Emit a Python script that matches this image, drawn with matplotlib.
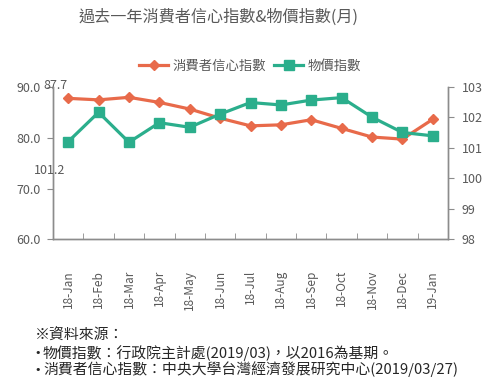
import numpy as np
import matplotlib
matplotlib.use("Agg")
import matplotlib.pyplot as plt

plt.rcParams['font.family'] = ['Noto Sans CJK TC', 'DejaVu Sans']

# ---------------------data-----------------------
months = ["18-Jan", "18-Feb", "18-Mar", "18-Apr", "18-May", "18-Jun", "18-Jul",
          "18-Aug", "18-Sep", "18-Oct", "18-Nov", "18-Dec", "19-Jan"]
confidence = [87.7, 87.4, 87.9, 86.9, 85.6, 83.8, 82.3, 82.5, 83.5, 81.8, 80.1, 79.7, 83.6]
cpi = [101.2, 102.16, 101.18, 101.82, 101.67, 102.1, 102.48, 102.4, 102.56, 102.64, 102.0, 101.5, 101.39]
left_ticks = [60, 70, 80, 90]
right_ticks = [98, 99, 100, 101, 102, 103]

c_conf = "#E86A4A"
c_cpi = "#2BAE8C"
gray = "#8C8C8C"
txt = "#595959"

fig = plt.figure(figsize=(5, 3.85), dpi=100)
ax = fig.add_axes([0.106, 0.378, 0.79, 0.397])
ax2 = ax.twinx()

x = np.arange(len(months))
l1, = ax.plot(x, confidence, color=c_conf, lw=2.3, marker="D", ms=5, label="消費者信心指數", zorder=3)
l2, = ax2.plot(x, cpi, color=c_cpi, lw=2.3, marker="s", ms=7, label="物價指數", zorder=3)

ax.set_xlim(-0.5, len(months) - 0.5)
ax.set_ylim(60, 90)
ax2.set_ylim(98, 103)
ax.set_yticks(left_ticks)
ax.set_yticklabels(["%.1f" % v for v in left_ticks])
ax2.set_yticks(right_ticks)

ax.set_xticks(x)
ax.set_xticklabels(months, rotation=90)
ax.set_xticks(np.arange(len(months) + 1) - 0.5, minor=True)
ax.tick_params(axis="x", which="major", length=0, pad=22, labelsize=8.5, labelcolor=txt)
ax.tick_params(axis="x", which="minor", direction="in", length=4, color=gray)
ax.tick_params(axis="y", direction="out", length=4, color=gray, labelsize=9, labelcolor=txt, pad=5)
ax2.tick_params(axis="y", direction="out", length=4, color=gray, labelsize=9, labelcolor=txt, pad=6)

for a in (ax, ax2):
    a.spines["top"].set_visible(False)
    for s in ("left", "right", "bottom"):
        a.spines[s].set_color(gray)
        a.spines[s].set_linewidth(1.0)
ax2.set_zorder(ax.get_zorder() + 1)
ax.patch.set_visible(False)

# stray data labels of the first points
ax.text(-0.41, 90.3, "%.1f" % confidence[0], ha="center", va="center", fontsize=9,
        color=txt, clip_on=False)
ax2.text(-0.6, 100.25, "%.1f" % cpi[0], ha="center", va="center", fontsize=9,
         color=txt, clip_on=False)

fig.text(0.438, 0.955, "過去一年消費者信心指數&物價指數(月)", ha="center", va="center",
         fontsize=11.6, color=txt)
fig.legend(handles=[l1, l2], loc="center", bbox_to_anchor=(0.5, 0.83), ncol=2,
           frameon=False, fontsize=9.6, handlelength=2.2, handletextpad=0.3,
           columnspacing=0.6, labelcolor=txt)

fig.text(0.07, 0.128, "※資料來源：", ha="left", va="center", fontsize=10.7, color="#262626")
notes = ["物價指數：行政院主計處(2019/03)，以2016為基期。",
         "消費者信心指數：中央大學台灣經濟發展研究中心(2019/03/27)"]
for i, s in enumerate(notes):
    yy = 0.083 - i * 0.043
    fig.text(0.068, yy, "•", ha="left", va="center", fontsize=8, color="#262626",
             family="DejaVu Sans")
    fig.text(0.086, yy, s, ha="left", va="center", fontsize=10.7, color="#262626")

fig.savefig("out.png", dpi=100)
